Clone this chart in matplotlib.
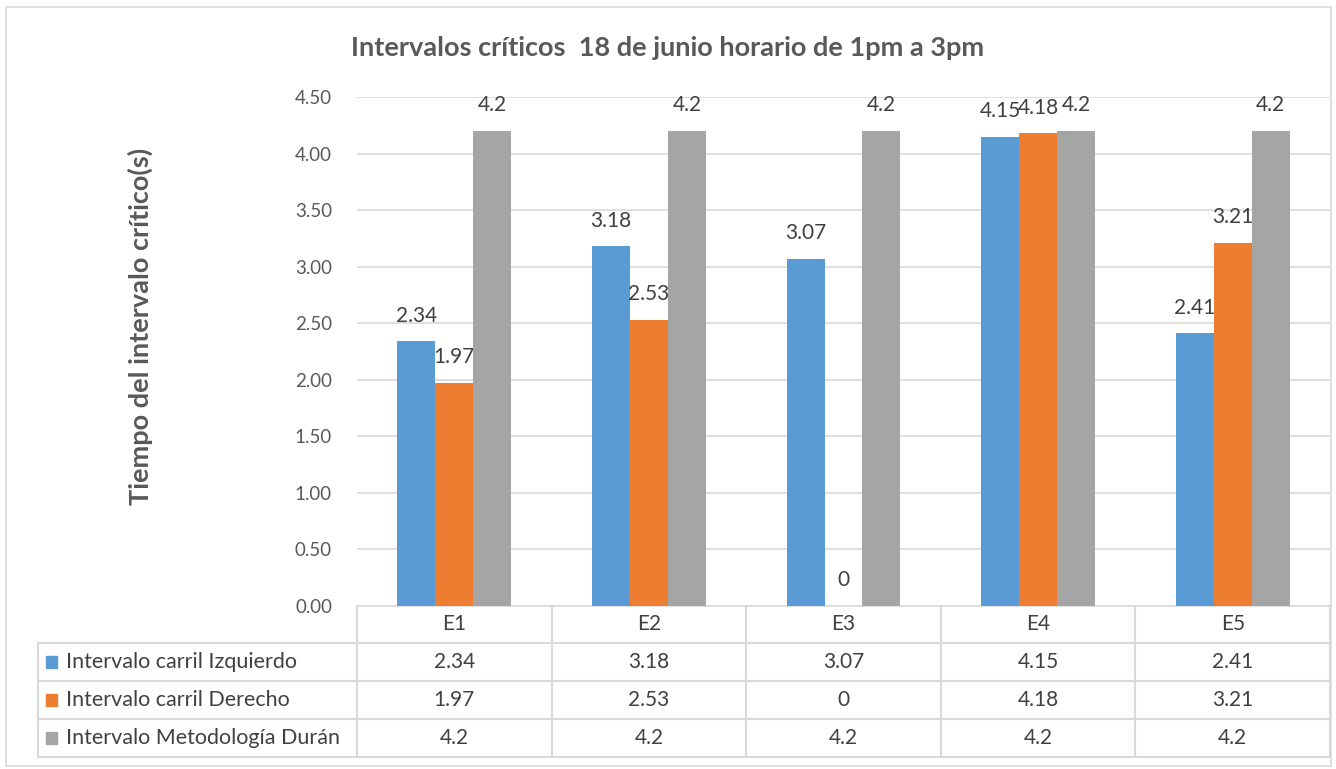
import numpy as np
import matplotlib
matplotlib.use("Agg")
import matplotlib.pyplot as plt
from matplotlib.transforms import blended_transform_factory
from matplotlib.patches import Rectangle
from matplotlib.lines import Line2D

# data
categories = ["E1", "E2", "E3", "E4", "E5"]
series_names = ["Intervalo carril Izquierdo", "Intervalo carril Derecho", "Intervalo Metodología Durán"]
izquierdo = [2.34, 3.18, 3.07, 4.15, 2.41]
derecho = [1.97, 2.53, 0, 4.18, 3.21]
duran = [4.2, 4.2, 4.2, 4.2, 4.2]
series_values = [izquierdo, derecho, duran]
colors = ["#5b9bd5", "#ed7d31", "#a5a5a5"]
y_ticks = [0, 0.5, 1.0, 1.5, 2.0, 2.5, 3.0, 3.5, 4.0, 4.5]

plt.rcParams['font.family'] = ['Lato', 'DejaVu Sans']

W, H = 1336, 769
fig = plt.figure(figsize=(W / 100, H / 100), dpi=100)

def fy(py):
    # pixel y (from top) to figure fraction
    return 1 - py / H

def fx(px):
    return px / W

ax = fig.add_axes([fx(357), fy(606), fx(1330) - fx(357), fy(97) - fy(606)])

x = np.arange(len(categories))
bw = 0.195
for i, (vals, col) in enumerate(zip(series_values, colors)):
    xs = x + (i - 1) * bw
    ax.bar(xs, vals, width=bw, color=col, zorder=3)
    for xi, v in zip(xs, vals):
        ax.annotate(f"{v:g}", (xi, v), xytext=(0, 18.5), textcoords="offset points",
                    ha="center", va="center", fontsize=15, color="#404040")

ax.set_xlim(-0.5, len(categories) - 0.5)
ax.set_ylim(0, 4.5)
ax.set_yticks(y_ticks)
ax.set_yticklabels([f"{t:.2f}" for t in y_ticks], fontsize=13.5, color="#595959")
ax.tick_params(axis="y", length=0, pad=18)
ax.set_xticks([])
ax.grid(axis="y", color="#d9d9d9", linewidth=1.2, zorder=0)
for s in ["top", "right", "left"]:
    ax.spines[s].set_visible(False)
ax.spines["bottom"].set_color("#d9d9d9")
ax.spines["bottom"].set_linewidth(1.2)

fig.text(fx(140), fy(326), "Tiempo del intervalo crítico(s)", rotation=90, ha="center", va="center",
         fontsize=19.5, fontweight="bold", color="#595959")

fig.text(0.5, fy(48), "Intervalos críticos  18 de junio horario de 1pm a 3pm", ha="center", va="center",
         fontsize=19.5, fontweight="bold", color="#595959")

# data table below the plot
tr = blended_transform_factory(ax.transData, fig.transFigure)
line_kw = dict(color="#d9d9d9", linewidth=1.5, clip_on=False)
row_lines = [606, 643, 681, 719, 757]
edges = np.arange(len(categories) + 1) - 0.5
for e in edges:
    fig.add_artist(Line2D([e, e], [fy(606), fy(757)], transform=tr, **line_kw))
fig.add_artist(Line2D([fx(38), fx(38)], [fy(643), fy(757)], **line_kw))
for r in row_lines[1:]:
    fig.add_artist(Line2D([fx(38), fx(1330)], [fy(r), fy(r)], **line_kw))

for j, c in enumerate(categories):
    fig.text(x[j], fy((606 + 643) / 2), c, transform=tr, ha="center", va="center",
             fontsize=15, color="#404040")
for i, (name, vals, col) in enumerate(zip(series_names, series_values, colors)):
    yc = (row_lines[i + 1] + row_lines[i + 2]) / 2
    fig.add_artist(Rectangle((fx(46), fy(yc + 6)), fx(11), fy(0) - fy(12), color=col,
                             transform=fig.transFigure))
    fig.text(fx(66), fy(yc), name, ha="left", va="center", fontsize=15.5, color="#404040")
    for j, v in enumerate(vals):
        fig.text(x[j], fy(yc), f"{v:g}", transform=tr, ha="center", va="center",
                 fontsize=15, color="#404040")

# outer chart border
fig.add_artist(Rectangle((fx(6), fy(766)), fx(1325), fy(0) - fy(759), fill=False,
                         edgecolor="#d9d9d9", linewidth=1.2, transform=fig.transFigure))

fig.savefig("out.png", dpi=100)
